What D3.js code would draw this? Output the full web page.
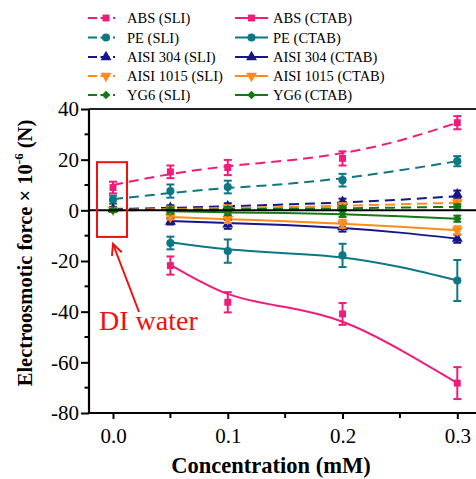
<!DOCTYPE html>
<html>
<head>
<meta charset="utf-8">
<script src="https://cdn.jsdelivr.net/npm/d3@7"></script>
<style>
  html, body { margin: 0; padding: 0; background: #fff; }
  svg { display: block; }
  svg text { font-family: "Liberation Serif", Tinos, "Times New Roman", Times, "Nimbus Roman", "DejaVu Serif", serif !important; }
</style>
</head>
<body>
<svg id="chart" width="476" height="479"></svg>
<script>
// Measured concentrations (mM)
const sliConc = [0, 0.05, 0.1, 0.2, 0.3];
const ctabConc = [0.05, 0.1, 0.2, 0.3];
// Positions where the fitted trend lines are sampled
const sliFitConc = [0, 0.05, 0.1, 0.15, 0.2, 0.25, 0.3];
const ctabFitConc = [0.05, 0.1, 0.15, 0.2, 0.25, 0.3];

// Electroosmotic force (×10^-6 N): means, error half-widths, fitted trend
const absSli = [9.0, 15.2, 16.9, 20.5, 34.6];
const absSliErr = [2.3, 2.5, 3.0, 2.8, 2.6];
const absSliFit = [10.0, 14.3, 17.4, 19.6, 22.6, 27.6, 34.6];

const peSli = [4.2, 7.6, 9.2, 11.9, 19.4];
const peSliErr = [1.6, 2.6, 2.5, 2.5, 2.0];
const peSliFit = [4.4, 6.8, 8.8, 10.4, 12.7, 15.8, 19.4];

const a304Sli = [0.5, 1.0, 1.6, 3.4, 6.3];
const a304SliErr = [0.8, 1.0, 1.2, 1.2, 1.5];
const a304SliFit = [0.5, 1.0, 1.6, 2.3, 3.1, 4.2, 5.6];

const a1015Sli = [0.2, 0.6, 1.0, 1.8, 3.0];
const a1015SliErr = [0.6, 0.8, 1.0, 1.0, 1.2];
const a1015SliFit = [0.2, 0.5, 0.9, 1.3, 1.8, 2.4, 3.0];

const yg6Sli = [0.0, 0.3, 0.5, 0.9, 1.4];
const yg6SliErr = [0.6, 0.8, 0.8, 0.8, 1.0];
const yg6SliFit = [0.0, 0.2, 0.4, 0.6, 0.8, 1.1, 1.4];

const absCtab = [-21.8, -36.3, -40.9, -68.2];
const absCtabErr = [3.6, 4.0, 4.3, 6.3];
const absCtabFit = [-21.5, -33.0, -38.2, -44.0, -55.0, -68.2];

const peCtab = [-12.9, -16.1, -17.8, -27.7];
const peCtabErr = [2.5, 4.6, 4.6, 8.1];
const peCtabFit = [-12.6, -15.4, -16.9, -18.6, -22.4, -27.7];

const a304Ctab = [-4.4, -5.5, -6.6, -11.2];
const a304CtabErr = [1.2, 1.8, 1.8, 1.6];
const a304CtabFit = [-4.2, -5.0, -5.8, -7.0, -8.8, -11.2];

const a1015Ctab = [-2.6, -3.5, -5.3, -7.9];
const a1015CtabErr = [1.0, 1.5, 1.6, 1.6];
const a1015CtabFit = [-2.6, -3.5, -4.3, -5.3, -6.5, -7.9];

const yg6Ctab = [-0.5, -0.9, -1.4, -3.3];
const yg6CtabErr = [0.8, 1.0, 1.2, 1.2];
const yg6CtabFit = [-0.4, -0.8, -1.1, -1.5, -2.3, -3.3];

const seriesNames = ["ABS", "PE", "AISI 304", "AISI 1015", "YG6"];
const seriesColors = ["#ef1c7c", "#0d7784", "#16168a", "#ff8c1a", "#137a13"];
const seriesSymbols = ["square", "circle", "triangle", "triangleDown", "diamond"];

const xTicks = [0.0, 0.1, 0.2, 0.3];
const xTickLabels = ["0.0", "0.1", "0.2", "0.3"];
const yTicks = [40, 20, 0, -20, -40, -60, -80];

const series = [
  { kind: "SLI", conc: sliConc, fitConc: sliFitConc, groups: [
    [absSli, absSliErr, absSliFit], [peSli, peSliErr, peSliFit],
    [a304Sli, a304SliErr, a304SliFit], [a1015Sli, a1015SliErr, a1015SliFit],
    [yg6Sli, yg6SliErr, yg6SliFit]] },
  { kind: "CTAB", conc: ctabConc, fitConc: ctabFitConc, groups: [
    [absCtab, absCtabErr, absCtabFit], [peCtab, peCtabErr, peCtabFit],
    [a304Ctab, a304CtabErr, a304CtabFit], [a1015Ctab, a1015CtabErr, a1015CtabFit],
    [yg6Ctab, yg6CtabErr, yg6CtabFit]] }
];

const SERIF = '"Liberation Serif", Tinos, "Times New Roman", Times, serif';
const svg = d3.select("#chart").attr("font-family", SERIF);
const plotLeft = 89, plotTop = 109, plotBottom = 413, plotRight = 476;

const x = d3.scaleLinear().domain([0, 0.3]).range([113, 457.3]);
const y = d3.scaleLinear().domain([-80, 40]).range([plotBottom, plotTop]);

function symbolPath(name, size) {
  const types = {
    square: d3.symbolSquare, circle: d3.symbolCircle,
    triangle: d3.symbolTriangle, triangleDown: d3.symbolTriangle,
    diamond: d3.symbolSquare
  };
  return d3.symbol().type(types[name]).size(size)();
}
function symbolRotation(name) {
  if (name === "triangleDown") return 180;
  if (name === "diamond") return 45;
  return 0;
}
const symbolSize = { square: 48, circle: 52, triangle: 52, triangleDown: 52, diamond: 38 };

// Frame: top border
svg.append("line").attr("x1", plotLeft).attr("x2", plotRight).attr("y1", plotTop).attr("y2", plotTop)
  .attr("stroke", "#222").attr("stroke-width", 1.8);

const plot = svg.append("g");
const line = d3.line().curve(d3.curveNatural);

// Trend lines (CTAB solid, SLI dashed), drawn beneath the markers
[1, 0].forEach(si => {
  const s = series[si];
  s.groups.forEach((g, gi) => {
    const fit = g[2];
    const color = seriesColors[gi];
    const pts = s.fitConc.map((c, i) => [x(c), y(fit[i])]);
    plot.append("path").attr("d", line(pts))
      .attr("fill", "none").attr("stroke", color).attr("stroke-width", 2)
      .attr("stroke-dasharray", s.kind === "SLI" ? "10,6" : null);
  });
});

// Markers with error bars
[1, 0].forEach(si => {
  const s = series[si];
  s.groups.forEach((g, gi) => {
    const [vals, errs] = g;
    const color = seriesColors[gi];
    const sym = seriesSymbols[gi];
    const grp = plot.append("g");
    s.conc.forEach((c, i) => {
      const cx = x(c);
      const y1 = y(vals[i] + errs[i]), y2 = y(vals[i] - errs[i]);
      grp.append("line").attr("x1", cx).attr("x2", cx).attr("y1", y1).attr("y2", y2)
        .attr("stroke", color).attr("stroke-width", 2);
      [y1, y2].forEach(yy => grp.append("line")
        .attr("x1", cx - 4).attr("x2", cx + 4).attr("y1", yy).attr("y2", yy)
        .attr("stroke", color).attr("stroke-width", 2));
      grp.append("path").attr("d", symbolPath(sym, symbolSize[sym]))
        .attr("transform", `translate(${cx},${y(vals[i])}) rotate(${symbolRotation(sym)})`)
        .attr("fill", color);
    });
  });
});

// Zero line
svg.append("line").attr("x1", plotLeft).attr("x2", plotRight).attr("y1", y(0)).attr("y2", y(0))
  .attr("stroke", "#000").attr("stroke-width", 2);

// Axes
const yAxis = d3.axisLeft(y).tickValues(yTicks).tickSize(8).tickPadding(2);
const yg = svg.append("g").attr("transform", `translate(${plotLeft},0)`).call(yAxis)
  .attr("font-family", SERIF);
yg.select(".domain").attr("stroke-width", 2.2).attr("d", `M0,${plotTop}V${plotBottom}`);
yg.selectAll(".tick line").attr("stroke-width", 2);
yg.selectAll(".tick text").attr("font-size", 21).attr("fill", "#000")
  .text(d => d < 0 ? "-" + Math.abs(d) : String(d));
// y minor ticks
svg.append("g").selectAll("line").data(d3.range(-70, 40, 20)).join("line")
  .attr("x1", plotLeft - 4.5).attr("x2", plotLeft).attr("y1", d => y(d)).attr("y2", d => y(d))
  .attr("stroke", "#000").attr("stroke-width", 2);

const xAxis = d3.axisBottom(x).tickValues(xTicks).tickSize(6).tickPadding(9)
  .tickFormat((d, i) => xTickLabels[i]);
const xg = svg.append("g").attr("transform", `translate(0,${plotBottom})`).call(xAxis)
  .attr("font-family", SERIF);
xg.select(".domain").attr("stroke-width", 2.2).attr("d", `M${plotLeft},0H${plotRight}`);
xg.selectAll(".tick line").attr("stroke-width", 2);
xg.selectAll(".tick text").attr("font-size", 21).attr("fill", "#000");
svg.append("g").selectAll("line").data([0.05, 0.15, 0.25]).join("line")
  .attr("x1", d => x(d)).attr("x2", d => x(d)).attr("y1", plotBottom).attr("y2", plotBottom + 5)
  .attr("stroke", "#000").attr("stroke-width", 2);

// Axis titles
svg.append("text").attr("x", 271).attr("y", 473).attr("text-anchor", "middle")
  .attr("font-size", 22.5).attr("font-weight", "bold").text("Concentration (mM)");

const yt = svg.append("text").attr("transform", "translate(32,253) rotate(-90)")
  .attr("text-anchor", "middle").attr("font-size", 20.5).attr("font-weight", "bold");
yt.append("tspan").text("Electroosmotic force \u00d7 10");
yt.append("tspan").attr("font-size", 13).attr("dy", -9).text("-6");
yt.append("tspan").attr("dy", 9).text(" (N)");

// DI water annotation
svg.append("rect").attr("x", x(0) - 16).attr("y", y(19)).attr("width", 30)
  .attr("height", y(-10.5) - y(19)).attr("fill", "none").attr("stroke", "#f01010").attr("stroke-width", 2);
const ax1 = 139, ay1 = 312, ax2 = 113, ay2 = 244;
svg.append("line").attr("x1", ax1).attr("y1", ay1).attr("x2", ax2).attr("y2", ay2)
  .attr("stroke", "#f01010").attr("stroke-width", 2);
{
  const ang = Math.atan2(ay1 - ay2, ax1 - ax2);
  const L = 12, spread = 0.45;
  const p = [ang - spread, ang + spread].map(a => [ax2 + L * Math.cos(a), ay2 + L * Math.sin(a)]);
  svg.append("path").attr("d", `M${p[0][0]},${p[0][1]}L${ax2},${ay2}L${p[1][0]},${p[1][1]}`)
    .attr("fill", "none").attr("stroke", "#f01010").attr("stroke-width", 2);
}
svg.append("text").attr("x", 99).attr("y", 330).attr("font-size", 28).attr("fill", "#f01010")
  .text("DI water");

// Legend
const legendRows = [18, 37.5, 57, 76, 95];
const legend = svg.append("g");
seriesNames.forEach((name, i) => {
  const ly = legendRows[i];
  const color = seriesColors[i];
  const sym = seriesSymbols[i];
  // SLI (dashed)
  legend.append("line").attr("x1", 88).attr("x2", 115).attr("y1", ly).attr("y2", ly)
    .attr("stroke", color).attr("stroke-width", 2).attr("stroke-dasharray", "9,3.5");
  legend.append("path").attr("d", symbolPath(sym, symbolSize[sym]))
    .attr("transform", `translate(106,${ly}) rotate(${symbolRotation(sym)})`).attr("fill", color);
  legend.append("text").attr("x", 127).attr("y", ly + 5).attr("font-size", 14.5).text(name + " (SLI)");
  // CTAB (solid)
  legend.append("line").attr("x1", 235).attr("x2", 268).attr("y1", ly).attr("y2", ly)
    .attr("stroke", color).attr("stroke-width", 2);
  legend.append("path").attr("d", symbolPath(sym, symbolSize[sym]))
    .attr("transform", `translate(251.5,${ly}) rotate(${symbolRotation(sym)})`).attr("fill", color);
  legend.append("text").attr("x", 273).attr("y", ly + 5).attr("font-size", 14.5).text(name + " (CTAB)");
});
</script>
</body>
</html>
